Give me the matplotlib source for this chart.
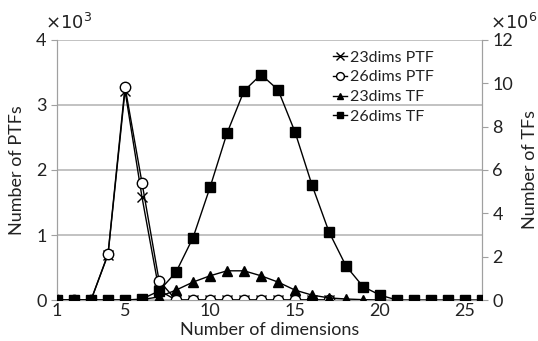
import matplotlib
matplotlib.use("Agg")
import matplotlib.pyplot as plt
import numpy as np

plt.rcParams['font.family'] = ['Lato', 'DejaVu Sans']

dims = list(range(1, 27))
dims_ptf = list(range(1, 18))
dims_tf23 = list(range(1, 21))

ptf23 = [0, 0, 0, 0.70, 3.22, 1.58, 0.15, 0, 0, 0, 0, 0, 0, 0, 0, 0, 0]
ptf26 = [0, 0, 0, 0.71, 3.28, 1.80, 0.30, 0, 0, 0, 0, 0, 0, 0, 0, 0, 0]
tf23 = [0, 0, 0, 0, 0, 0.02, 0.15, 0.46, 0.83, 1.12, 1.35, 1.35, 1.12, 0.83,
        0.46, 0.23, 0.10, 0.05, 0.02, 0]
tf26 = [0, 0, 0, 0, 0, 0.05, 0.42, 1.29, 2.88, 5.2, 7.7, 9.65, 10.4, 9.7,
        7.75, 5.3, 3.14, 1.57, 0.62, 0.23, 0, 0, 0, 0, 0, 0]

labels = ['23dims PTF', '26dims PTF', '23dims TF', '26dims TF']

fig = plt.figure(figsize=(5.38, 3.41), dpi=100)
ax = fig.add_axes([0.106, 0.120, 0.790, 0.763])
ax2 = ax.twinx()

gray = '#a0a0a0'
fs = 13
tc = '#222222'

ax.set_xlim(1, 26)
ax.set_ylim(0, 4)
ax2.set_ylim(0, 12)
ax.set_yticks([0, 1, 2, 3, 4])
ax2.set_yticks([0, 2, 4, 6, 8, 10, 12])
ax.set_xticks([1, 5, 10, 15, 20, 25])
ax.yaxis.grid(True, color='#b8b8b8', lw=1.2)
ax.set_axisbelow(True)

l1, = ax.plot(dims_ptf, ptf23, color='black', lw=1, marker='x', ms=7, mew=1,
              label=labels[0], zorder=3)
l2, = ax.plot(dims_ptf, ptf26, color='black', lw=1, marker='o', ms=7.5,
              mfc='white', mec='black', mew=1, label=labels[1], zorder=3)
l3, = ax2.plot(dims_tf23, tf23, color='black', lw=1, marker='^', ms=6.5,
               label=labels[2], zorder=4)
l4, = ax2.plot(dims, tf26, color='black', lw=1, marker='s', ms=6.5,
               label=labels[3], zorder=4)

for a in (ax, ax2):
    for s in a.spines.values():
        s.set_color(gray)
    a.spines['top'].set_visible(False)
    a.tick_params(colors=tc, labelsize=fs, length=4, color=gray)
ax.tick_params(axis='x', length=0, pad=2)

ax.set_xlabel('Number of dimensions', fontsize=fs, color=tc)
ax.xaxis.set_label_coords(0.5, -0.085)
ax.set_ylabel('Number of PTFs', fontsize=fs, labelpad=8, color=tc)
ax2.set_ylabel('Number of TFs', fontsize=fs, labelpad=6, color=tc)

fig.text(0.083, 0.915, r'$\times10^3$', fontsize=fs, va='baseline', ha='left',
         color=tc, math_fontfamily='dejavusans')
fig.text(0.999, 0.915, r'$\times10^6$', fontsize=fs, va='baseline', ha='right',
         color=tc, math_fontfamily='dejavusans')

leg = ax2.legend(handles=[l1, l2, l3, l4], loc='upper right',
                 bbox_to_anchor=(0.905, 0.99), frameon=False, fontsize=11.5,
                 handlelength=0.9, handletextpad=0.15, labelspacing=0.35,
                 markerscale=0.75, borderaxespad=0.1)
for t in leg.get_texts():
    t.set_color(tc)

fig.savefig('out.png', dpi=100)
